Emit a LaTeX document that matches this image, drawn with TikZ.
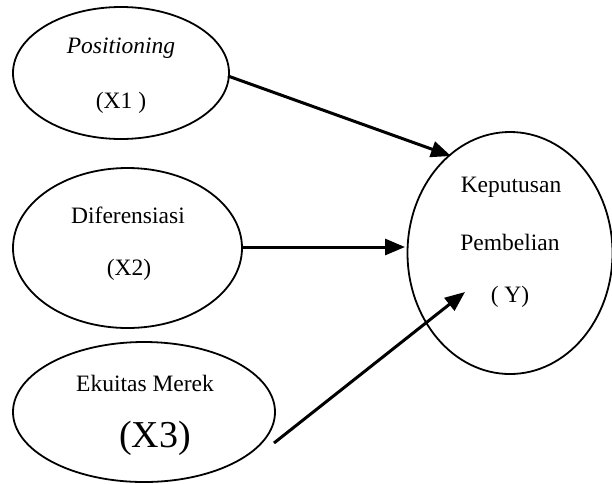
\documentclass[tikz,border=0pt]{standalone}
\usepackage{fontspec}
\setmainfont{Liberation Serif}
\usetikzlibrary{shapes.geometric,arrows.meta}
\begin{document}
\begin{tikzpicture}[x=1pt,y=-1pt,
  ell/.style={draw,ellipse,line width=1.8pt,inner sep=0pt},
  lbl/.style={inner sep=0pt,font=\fontsize{23.5}{28}\selectfont},
  big/.style={inner sep=0pt,font=\fontsize{38}{42}\selectfont},
  arr/.style={line width=3pt,-{Triangle[length=20pt,width=16pt]}}]
\useasboundingbox (0,0) rectangle (612,483);
% ellipses
\node[ell,minimum width=216pt,minimum height=132pt] (x1) at (121,73) {};
\node[ell,minimum width=229pt,minimum height=160pt] (x2) at (127.5,248) {};
\node[ell,minimum width=262pt,minimum height=140pt] (x3) at (144,412) {};
\node[ell,minimum width=205pt,minimum height=242pt] (y) at (510,253) {};
% texts
\node[lbl] (t1a) at (121,48) {\itshape Positioning};
\node[lbl] (t1b) at (121,103) {(X1 )};
\node[lbl] (t2a) at (128,215) {Diferensiasi};
\node[lbl] (t2b) at (129,270) {(X2)};
\node[lbl] (t3a) at (145,383) {Ekuitas Merek};
\node[big] (t3b) at (155,438) {(X3)};
\node[lbl] (ya) at (511,187) {Keputusan};
\node[lbl] (yb) at (510,242) {Pembelian};
\node[lbl] (yc) at (510,297) {( Y)};
% connector endpoints
\coordinate (s1) at (228,76);
\coordinate (e1) at (451,156);
\coordinate (s2) at (242,247);
\coordinate (e2) at (405,247);
\coordinate (s3) at (274,443);
\coordinate (e3) at (465,292);
\draw[arr] (s1) -- (e1);
\draw[arr] (s2) -- (e2);
\draw[arr] (s3) -- (e3);
\end{tikzpicture}
\end{document}
